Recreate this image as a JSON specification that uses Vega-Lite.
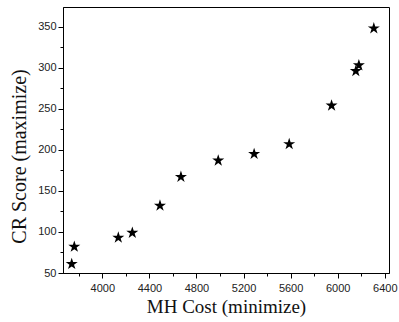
{
  "$schema": "https://vega.github.io/schema/vega-lite/v6.json",
  "autosize": "none",
  "width": 326,
  "height": 266,
  "padding": {"left": 63, "top": 7, "right": 10, "bottom": 49},
  "background": "white",
  "config": {
    "view": {"stroke": "black", "strokeWidth": 1},
    "axis": {"grid": false, "domainColor": "black", "tickColor": "black", "labelColor": "#222", "labelFont": "Liberation Sans", "labelFontSize": 11, "titleFont": "Liberation Serif", "titleFontWeight": "normal", "titleColor": "#111"}
  },
  "data": {"values": [
    {"cost": 3740, "score": 61},
    {"cost": 3762, "score": 82},
    {"cost": 4136, "score": 93},
    {"cost": 4255, "score": 99},
    {"cost": 4490, "score": 132},
    {"cost": 4668, "score": 167},
    {"cost": 4985, "score": 187},
    {"cost": 5290, "score": 195},
    {"cost": 5588, "score": 207},
    {"cost": 5948, "score": 254},
    {"cost": 6154, "score": 296},
    {"cost": 6180, "score": 303},
    {"cost": 6307, "score": 348}
  ]},
  "mark": {"type": "point", "filled": true, "color": "black", "opacity": 1, "size": 160,
    "shape": "M0,-1L0.225,-0.309L0.951,-0.309L0.363,0.118L0.588,0.809L0,0.382L-0.588,0.809L-0.363,0.118L-0.951,-0.309L-0.225,-0.309Z"},
  "encoding": {
    "x": {"field": "cost", "type": "quantitative", "scale": {"domain": [3666, 6436], "nice": false, "zero": false},
      "axis": {"title": "MH Cost (minimize)", "titleFontSize": 19, "titlePadding": 4,
        "values": [3800, 4000, 4200, 4400, 4600, 4800, 5000, 5200, 5400, 5600, 5800, 6000, 6200, 6400],
        "labelExpr": "datum.value % 400 === 0 ? datum.label : ''",
        "format": "d", "labelPadding": 4,
        "tickSize": {"condition": {"test": "datum.value % 400 === 0", "value": 5}, "value": 3}}},
    "y": {"field": "score", "type": "quantitative", "scale": {"domain": [50, 374], "nice": false, "zero": false},
      "axis": {"title": "CR Score (maximize)", "titleFontSize": 20, "titleY": 149, "titleX": -34,
        "values": [50, 75, 100, 125, 150, 175, 200, 225, 250, 275, 300, 325, 350],
        "labelExpr": "datum.value % 50 === 0 ? datum.label : ''",
        "labelPadding": 2,
        "tickSize": {"condition": {"test": "datum.value % 50 === 0", "value": 5}, "value": 3}}}
  }
}
